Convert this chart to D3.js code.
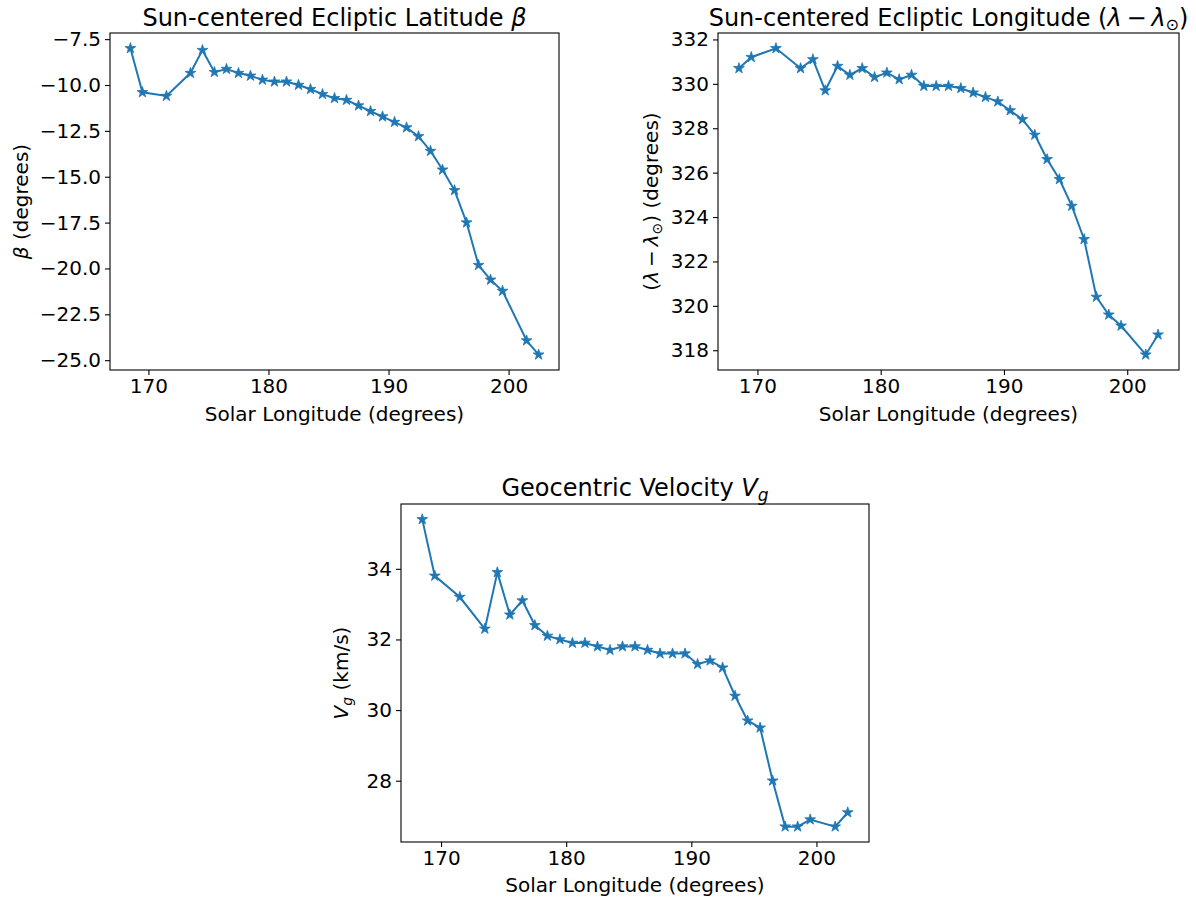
<!DOCTYPE html>
<html>
<head>
<meta charset="utf-8">
<script src="https://cdn.jsdelivr.net/npm/d3@7"></script>
<style>
  body { margin: 0; background: #fff; }
  svg text { font-family: "DejaVu Sans", sans-serif; fill: #000; }
</style>
</head>
<body>
<svg id="fig" width="1196" height="900"></svg>
<script>
// solar longitude (deg)
const solarLon = [168.5, 169.5, 171.5, 173.5, 174.5, 175.5, 176.5, 177.5, 178.5, 179.5,
  180.5, 181.5, 182.5, 183.5, 184.5, 185.5, 186.5, 187.5, 188.5, 189.5,
  190.5, 191.5, 192.5, 193.5, 194.5, 195.5, 196.5, 197.5, 198.5, 199.5,
  201.5, 202.5];

// sun-centered ecliptic latitude beta (deg)
const beta = [-8.0, -10.4, -10.6, -9.35, -8.1, -9.3, -9.13, -9.35, -9.5, -9.72,
  -9.82, -9.82, -10.0, -10.23, -10.5, -10.72, -10.82, -11.12, -11.43, -11.72,
  -12.02, -12.32, -12.8, -13.6, -14.62, -15.74, -17.5, -19.82, -20.62, -21.23,
  -23.93, -24.7];

// sun-centered ecliptic longitude (lambda - lambda_sun) (deg)
const lambdaSun = [330.7, 331.2, 331.6, 330.7, 331.1, 329.7, 330.8, 330.4, 330.7, 330.3,
  330.5, 330.2, 330.4, 329.9, 329.9, 329.9, 329.8, 329.6, 329.4, 329.2,
  328.8, 328.4, 327.7, 326.6, 325.7, 324.5, 323.0, 320.4, 319.6, 319.1,
  317.8, 318.7];

// geocentric velocity (km/s)
const vg = [35.4, 33.8, 33.2, 32.3, 33.9, 32.7, 33.1, 32.4, 32.1, 32.0,
  31.9, 31.9, 31.8, 31.7, 31.8, 31.8, 31.7, 31.6, 31.6, 31.6,
  31.3, 31.4, 31.2, 30.4, 29.7, 29.5, 28.0, 26.7, 26.7, 26.9,
  26.7, 27.1];

const xTicks = [170, 180, 190, 200];
const betaTicks = [-7.5, -10, -12.5, -15, -17.5, -20, -22.5, -25];
const lambdaTicks = [318, 320, 322, 324, 326, 328, 330, 332];
const vgTicks = [28, 30, 32, 34];

const svg = d3.select("#fig");
const blue = "#1f77b4";

// matplotlib-like 5% margin
function padded(vals) {
  const [lo, hi] = d3.extent(vals);
  const p = (hi - lo) * 0.05;
  return [lo - p, hi + p];
}

function minusFmt(s) { return s.replace("-", "\u2212"); }

function panel(opt) {
  const g = svg.append("g").attr("transform", `translate(${opt.left},${opt.top})`);
  const w = opt.width, h = opt.height;

  const x = d3.scaleLinear().domain(padded(solarLon)).range([0, w]);
  const y = d3.scaleLinear().domain(padded(opt.values)).range([h, 0]);

  const xAxis = d3.axisBottom(x).tickValues(xTicks).tickSize(5).tickPadding(4)
    .tickFormat(d3.format("d"));
  const yAxis = d3.axisLeft(y).tickValues(opt.ticks).tickSize(5).tickPadding(4)
    .tickFormat(d => minusFmt(opt.fmt(d)));

  g.append("g").attr("transform", `translate(0,${h})`).call(xAxis)
    .call(a => a.select(".domain").remove())
    .selectAll("text").attr("font-size", 20).attr("font-family", "DejaVu Sans").attr("fill", "#000");
  g.append("g").call(yAxis)
    .call(a => a.select(".domain").remove())
    .selectAll("text").attr("font-size", 20).attr("font-family", "DejaVu Sans").attr("fill", "#000");
  g.selectAll(".tick line").attr("stroke", "#000").attr("stroke-width", 1.1);

  const line = d3.line().x((d, i) => x(solarLon[i])).y(d => y(d));
  g.append("path").datum(opt.values)
    .attr("d", line)
    .attr("fill", "none")
    .attr("stroke", blue)
    .attr("stroke-width", 2);

  const star = d3.symbol().type(d3.symbolStar).size(36);
  g.selectAll(".pt").data(opt.values).enter().append("path")
    .attr("class", "pt")
    .attr("d", star)
    .attr("transform", (d, i) => `translate(${x(solarLon[i])},${y(d)})`)
    .attr("fill", blue)
    .attr("stroke", blue)
    .attr("stroke-width", 0.8);

  g.append("rect").attr("width", w).attr("height", h)
    .attr("fill", "none").attr("stroke", "#000").attr("stroke-width", 1.1);

  // title
  const t = g.append("text").attr("x", w / 2).attr("y", opt.titleY)
    .attr("text-anchor", "middle").attr("font-size", 24);
  opt.title(t);

  // x label
  g.append("text").attr("x", w / 2).attr("y", h + opt.xlabelDy)
    .attr("text-anchor", "middle").attr("font-size", 20)
    .text("Solar Longitude (degrees)");

  // y label
  const yl = g.append("text")
    .attr("transform", `translate(${opt.ylabelX},${h / 2}) rotate(-90)`)
    .attr("text-anchor", "middle").attr("font-size", 20);
  opt.ylabel(yl);
}

panel({
  left: 110, top: 33, width: 449, height: 337,
  values: beta, ticks: betaTicks, fmt: d3.format(".1f"),
  titleY: -7, xlabelDy: 51, ylabelX: -82,
  title: t => {
    t.append("tspan").text("Sun-centered Ecliptic Latitude ");
    t.append("tspan").attr("font-style", "italic").text("\u03b2");
  },
  ylabel: t => {
    t.append("tspan").attr("font-style", "italic").text("\u03b2");
    t.append("tspan").text(" (degrees)");
  }
});

panel({
  left: 718, top: 33, width: 461, height: 337,
  values: lambdaSun, ticks: lambdaTicks, fmt: d3.format("d"),
  titleY: -7, xlabelDy: 51, ylabelX: -60,
  title: t => {
    t.append("tspan").text("Sun-centered Ecliptic Longitude (");
    t.append("tspan").attr("font-style", "italic").text("\u03bb");
    t.append("tspan").text("\u2009\u2212\u2009");
    t.append("tspan").attr("font-style", "italic").text("\u03bb");
    t.append("tspan").attr("font-size", 16).attr("dy", 4).text("\u2299");
    t.append("tspan").attr("dy", -4).text(")");
  },
  ylabel: t => {
    t.append("tspan").text("(");
    t.append("tspan").attr("font-style", "italic").text("\u03bb");
    t.append("tspan").text("\u2009\u2212\u2009");
    t.append("tspan").attr("font-style", "italic").text("\u03bb");
    t.append("tspan").attr("font-size", 14).attr("dy", 4).text("\u2299");
    t.append("tspan").attr("dy", -4).text(") (degrees)");
  }
});

panel({
  left: 401, top: 504, width: 468, height: 338,
  values: vg, ticks: vgTicks, fmt: d3.format("d"),
  titleY: -8, xlabelDy: 50, ylabelX: -53,
  title: t => {
    t.append("tspan").text("Geocentric Velocity ");
    t.append("tspan").attr("font-style", "italic").text("V");
    t.append("tspan").attr("font-style", "italic").attr("font-size", 17).attr("dy", 5).text("g");
  },
  ylabel: t => {
    t.append("tspan").attr("font-style", "italic").text("V");
    t.append("tspan").attr("font-style", "italic").attr("font-size", 14).attr("dy", 4).text("g");
    t.append("tspan").attr("dy", -4).text(" (km/s)");
  }
});
</script>
</body>
</html>
